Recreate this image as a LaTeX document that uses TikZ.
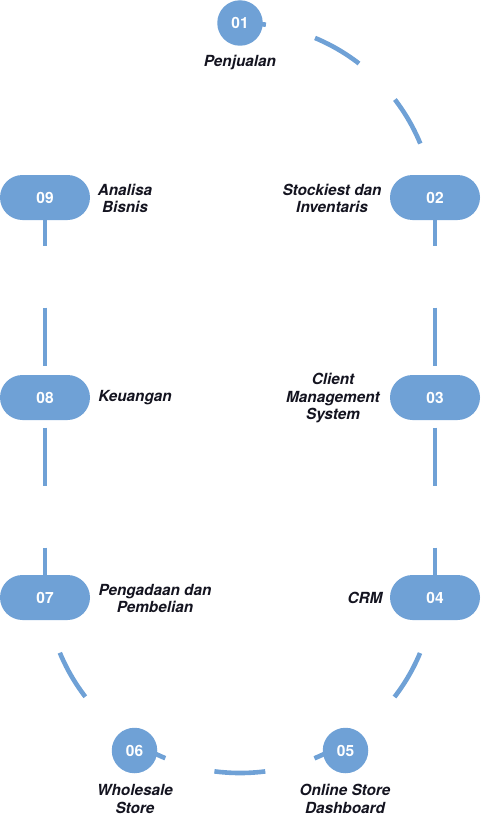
\documentclass[tikz,border=0pt]{standalone}
\usepackage{fontspec}
\setmainfont{TeX Gyre Heros}
\definecolor{pillblue}{RGB}{111,161,214}
\definecolor{ink}{RGB}{20,20,32}
\tikzset{
  roundnum/.style={circle, fill=pillblue, text=white, minimum size=45.5pt, inner sep=0pt,
    font=\bfseries\fontsize{15.5}{17}\selectfont},
  pillnum/.style={rectangle, rounded corners=22.5pt, fill=pillblue, text=white,
    minimum width=90pt, minimum height=45pt, inner sep=0pt,
    font=\bfseries\fontsize{15.5}{17}\selectfont},
  lbl/.style={text=ink, align=center, inner sep=0pt,
    font=\bfseries\itshape\fontsize{15.3}{17.5}\selectfont},
  arcline/.style={draw=pillblue, line width=4.6pt, dash pattern=on 51pt off 51pt, dash phase=25pt},
  vline/.style={draw=pillblue, line width=4.4pt, dash pattern=on 58pt off 62pt, dash phase=10pt},
}
\begin{document}
\begin{tikzpicture}[x=1pt,y=1pt]
\useasboundingbox (0,0) rectangle (480,-816);
% positions
\coordinate (p01) at (240,-23);
\coordinate (p02) at (435,-197.5);
\coordinate (p03) at (435,-397.5);
\coordinate (p04) at (435,-597.5);
\coordinate (p05) at (345.5,-750.5);
\coordinate (p06) at (134.5,-750.5);
\coordinate (p07) at (45,-597.5);
\coordinate (p08) at (45,-397.5);
\coordinate (p09) at (45,-197.5);
\coordinate (r4) at (435,-578);
% connectors (behind)
\draw[arcline] (p01) arc[start angle=90, end angle=0, radius=195];
\draw[arcline] (r4) arc[start angle=0, end angle=-180, radius=195];
\draw[vline] (p09) -- (p07);
\draw[vline] (p02) -- (p04);
% nodes
\node[roundnum] (n01) at (p01) {01};
\node[pillnum] (n02) at (p02) {02};
\node[pillnum] (n03) at (p03) {03};
\node[pillnum] (n04) at (p04) {04};
\node[roundnum] (n05) at (p05) {05};
\node[roundnum] (n06) at (p06) {06};
\node[pillnum] (n07) at (p07) {07};
\node[pillnum] (n08) at (p08) {08};
\node[pillnum] (n09) at (p09) {09};
% labels
\node[lbl] (l01) at (240,-62) {Penjualan};
\node[lbl] (l02) at (332,-198.5) {Stockiest dan\\Inventaris};
\node[lbl] (l03) at (333,-398.5) {Client\\Management\\System};
\node[lbl] (l04) at (365,-598) {CRM};
\node[lbl] (l05) at (345,-799) {Online Store\\Dashboard};
\node[lbl] (l06) at (135,-799) {Wholesale\\Store};
\node[lbl] (l07) at (155,-598.5) {Pengadaan dan\\Pembelian};
\node[lbl] (l08) at (135,-398) {Keuangan};
\node[lbl] (l09) at (125,-198.5) {Analisa\\Bisnis};
\end{tikzpicture}
\end{document}
